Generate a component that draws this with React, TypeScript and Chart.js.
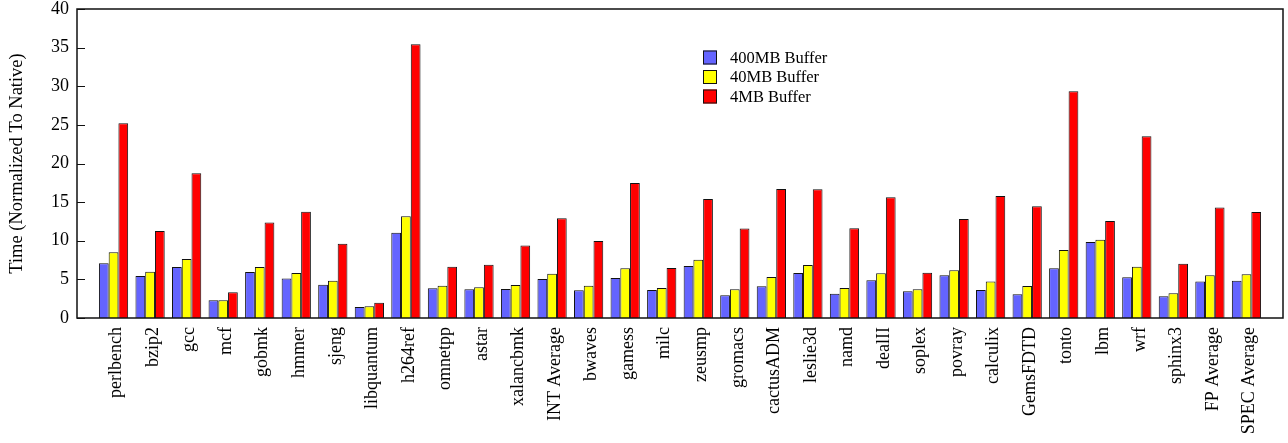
import { useEffect, useRef } from "react";
import { Chart, registerables } from "chart.js";

Chart.register(...registerables);

// SPEC CPU2006 benchmarks plus the INT / FP / overall averages
const benchmarks = [
  "perlbench", "bzip2", "gcc", "mcf", "gobmk", "hmmer", "sjeng", "libquantum",
  "h264ref", "omnetpp", "astar", "xalancbmk", "INT Average", "bwaves", "gamess",
  "milc", "zeusmp", "gromacs", "cactusADM", "leslie3d", "namd", "dealII", "soplex",
  "povray", "calculix", "GemsFDTD", "tonto", "lbm", "wrf", "sphinx3", "FP Average",
  "SPEC Average",
];

// Run time normalized to native execution, per buffer size
const buffer400MB = [
  7.1, 5.45, 6.6, 2.3, 5.95, 5.1, 4.3, 1.42, 11.05, 3.85, 3.72, 3.76, 5.05, 3.6,
  5.18, 3.63, 6.74, 2.94, 4.1, 5.83, 3.15, 4.88, 3.46, 5.53, 3.63, 3.07, 6.43,
  9.84, 5.27, 2.81, 4.71, 4.83,
];
const buffer40MB = [
  8.5, 6.0, 7.64, 2.3, 6.6, 5.83, 4.83, 1.51, 13.17, 4.18, 3.98, 4.27, 5.74, 4.18,
  6.43, 3.89, 7.55, 3.72, 5.31, 6.87, 3.89, 5.79, 3.72, 6.17, 4.71, 4.15, 8.81,
  10.14, 6.65, 3.2, 5.53, 5.66,
];
const buffer4MB = [
  25.2, 11.27, 18.74, 3.33, 12.35, 13.77, 9.62, 1.98, 35.45, 6.65, 6.9, 9.37,
  12.91, 9.97, 17.49, 6.48, 15.41, 11.57, 16.71, 16.67, 11.61, 15.63, 5.87, 12.82,
  15.8, 14.47, 29.36, 12.56, 23.53, 7.03, 14.29, 13.73,
];

const seriesNames = ["400MB Buffer", "40MB Buffer", "4MB Buffer"];
const seriesColors = ["#6464ff", "#ffff00", "#ff0000"];
const yMin = 0;
const yMax = 40;
const yStep = 5;
const yTitle = "Time (Normalized To Native)";

const FONT = "'Liberation Serif', 'Times New Roman', serif";

// Empty slots at both ends leave a gap of one category before the first and after the last group
const paddedLabels = ["", ...benchmarks, ""];
const pad = (values: number[]) => [null, ...values, null];

const framePlugin = {
  id: "plotFrame",
  afterDatasetsDraw(chart: any) {
    const { ctx, chartArea: a, scales } = chart;
    ctx.save();
    ctx.strokeStyle = "#111";
    ctx.lineWidth = 1.5;
    ctx.strokeRect(a.left, a.top, a.right - a.left, a.bottom - a.top);
    // inward tick marks along the left axis
    ctx.lineWidth = 1;
    const y = scales.y;
    y.ticks.forEach((t: any) => {
      const py = Math.round(y.getPixelForValue(t.value)) + 0.5;
      ctx.beginPath();
      ctx.moveTo(a.left, py);
      ctx.lineTo(a.left + 8, py);
      ctx.stroke();
    });
    ctx.restore();
  },
};

const legendPlugin = {
  id: "insideLegend",
  afterDraw(chart: any) {
    const { ctx, chartArea: a } = chart;
    const x0 = a.left + 626;
    const y0 = a.top + 48.5;
    const rowGap = 19.5;
    ctx.save();
    ctx.font = `16.5px ${FONT}`;
    ctx.textBaseline = "middle";
    ctx.textAlign = "left";
    chart.data.datasets.forEach((ds: any, i: number) => {
      const cy = y0 + i * rowGap;
      ctx.fillStyle = ds.backgroundColor;
      ctx.fillRect(x0, cy - 7, 14, 14);
      ctx.strokeStyle = "#111";
      ctx.lineWidth = 1;
      ctx.strokeRect(x0 + 0.5, cy - 6.5, 13, 13);
      ctx.fillStyle = "#000";
      ctx.fillText(ds.label, x0 + 27, cy + 1);
    });
    ctx.restore();
  },
};

export default function App() {
  const canvasRef = useRef<HTMLCanvasElement | null>(null);

  useEffect(() => {
    if (!canvasRef.current) return;
    const series = [buffer400MB, buffer40MB, buffer4MB];
    const chart = new Chart(canvasRef.current, {
      type: "bar",
      data: {
        labels: paddedLabels,
        datasets: series.map((values, i) => ({
          label: seriesNames[i],
          data: pad(values),
          backgroundColor: seriesColors[i],
          borderColor: "#111",
          borderWidth: 1,
          categoryPercentage: 0.8,
          barPercentage: 1.0,
        })),
      },
      options: {
        animation: false,
        responsive: true,
        maintainAspectRatio: false,
        layout: { padding: { top: 9, right: 5, left: 0, bottom: 0 } },
        plugins: {
          legend: { display: false },
          tooltip: { enabled: false },
        },
        scales: {
          x: {
            offset: false,
            grid: { display: false, drawTicks: false },
            border: { display: false },
            ticks: {
              autoSkip: false,
              maxRotation: 90,
              minRotation: 90,
              padding: 9,
              labelOffset: 3,
              color: "#000",
              font: { family: FONT, size: 18 },
            },
            afterFit(scale: any) {
              scale.height = 125;
              scale.paddingLeft = 0;
              scale.paddingRight = 0;
            },
          },
          y: {
            min: yMin,
            max: yMax,
            grid: { display: false, drawTicks: false },
            border: { display: false },
            ticks: {
              stepSize: yStep,
              padding: 8,
              color: "#000",
              font: { family: FONT, size: 18 },
            },
            title: {
              display: true,
              text: yTitle,
              color: "#000",
              font: { family: FONT, size: 18.5 },
              padding: { top: 6, bottom: 0 },
            },
            afterFit(scale: any) {
              scale.width = 77;
              scale.paddingTop = 0;
              scale.paddingBottom = 0;
            },
          },
        },
      },
      plugins: [framePlugin, legendPlugin],
    });
    return () => chart.destroy();
  }, []);

  return (
    <div style={{ position: "fixed", left: 0, top: 0, width: 1288, height: 443, background: "#fff" }}>
      <canvas ref={canvasRef} />
    </div>
  );
}
